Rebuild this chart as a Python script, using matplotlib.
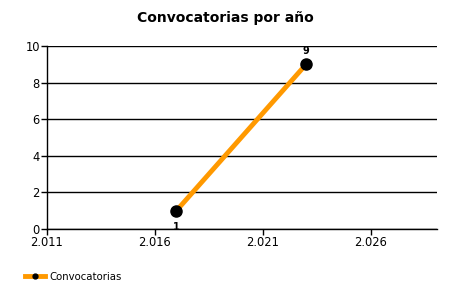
import numpy as np
import matplotlib.pyplot as plt
from matplotlib.ticker import FuncFormatter, FixedLocator

# Datos
years = [2017, 2023]
counts = [1, 9]
x_ticks = [2011, 2016, 2021, 2026]
series_name = 'Convocatorias'

plt.rcParams['font.family'] = ['DejaVu Sans']

fig = plt.figure(figsize=(4.5, 3), dpi=100)
ax = fig.add_axes([0.104, 0.237, 0.867, 0.61])

ax.plot(years, counts, color='#FF9900', linewidth=3.5, zorder=3)
ax.plot(years, counts, linestyle='none', marker='o', markersize=8,
        color='black', zorder=4)

# Etiquetas de valores
for x, y in zip(years, counts):
    if y < 5:
        ax.annotate(str(y), (x, y), xytext=(0, -8), textcoords='offset points',
                    ha='center', va='top', fontsize=7, fontweight='bold')
    else:
        ax.annotate(str(y), (x, y), xytext=(0, 6), textcoords='offset points',
                    ha='center', va='bottom', fontsize=7, fontweight='bold')

ax.set_xlim(2011, 2029.05)
ax.set_ylim(0, 10)
ax.set_yticks(np.arange(0, 11, 2))
ax.xaxis.set_major_locator(FixedLocator(x_ticks))
ax.xaxis.set_major_formatter(FuncFormatter(lambda v, p: f'{int(v):,}'.replace(',', '.')))
ax.tick_params(labelsize=8.3, length=4, width=1, color='black', pad=1)

ax.grid(axis='y', color='black', linewidth=1)
ax.set_axisbelow(True)
for s in ['top', 'right']:
    ax.spines[s].set_visible(False)
for s in ['left', 'bottom']:
    ax.spines[s].set_linewidth(1)

fig.text(0.5, 0.94, 'Convocatorias por año', ha='center', va='center',
         fontsize=10, fontweight='bold')

# Leyenda abajo a la izquierda
fig.legend(handles=[plt.Line2D([], [], color='#FF9900', linewidth=3.5, marker='o',
                               markersize=3.5, markerfacecolor='black',
                               markeredgecolor='black')],
           labels=[series_name], loc='lower left', bbox_to_anchor=(0.035, 0.03),
           frameon=False, fontsize=7.3, handlelength=2.0, handletextpad=0.4)

fig.savefig('out.png', dpi=100)
